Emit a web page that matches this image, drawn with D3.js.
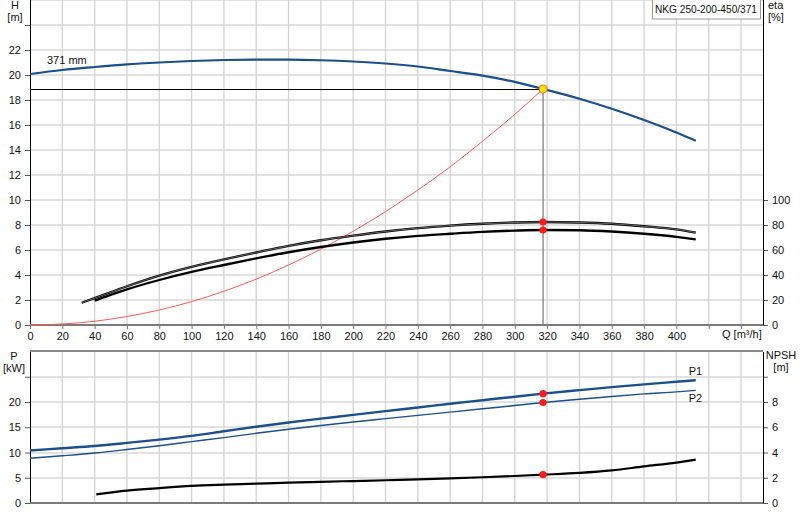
<!DOCTYPE html>
<html>
<head>
<meta charset="utf-8">
<script src="https://cdn.jsdelivr.net/npm/d3@7"></script>
<style>
body{margin:0;background:#fff;}
text{font-family:"Liberation Sans",Arial,sans-serif;font-size:11px;fill:#111;}
</style>
</head>
<body>
<svg id="chart" width="800" height="520"></svg>
<script>
// pump curve values
var qH=[0,20,40,60,80,100,120,140,160,180,200,220,240,260,280,300,317.5,340,360,380,400,412]
var headH=[20.08,20.4,20.64,20.85,21.0,21.12,21.2,21.23,21.23,21.18,21.08,20.92,20.68,20.32,19.95,19.45,18.88,18.1,17.3,16.4,15.4,14.74]

var qSys=[0,20,40,60,80,100,120,140,160,180,200,220,240,260,280,300,317.5]
var headSys=[0,0.08,0.3,0.68,1.2,1.87,2.7,3.67,4.8,6.07,7.5,9.07,10.8,12.65,14.7,16.85,18.88]

var qEta1=[32,40,60,80,100,120,140,160,180,200,220,240,260,280,300,317.5,340,360,380,400,412]
var eta1=[17.8,21.5,31,39.5,46.5,52.5,58,63.3,67.8,71.5,74.8,77.5,79.5,81,82,82.4,82,81,79,76.5,73.9]

var qEta2=[40,60,80,100,120,140,160,180,200,220,240,260,280,300,317.5,340,360,380,400,412]
var eta2=[19.5,28.5,36,42.5,48,53.3,58.2,62.4,66,69,71.3,73,74.5,75.5,76,75.8,74.8,73,70.5,68.5]

var qP=[0,20,40,60,80,100,120,140,160,180,200,220,240,260,280,300,317.5,340,360,380,400,412]
var p1=[10.4,10.85,11.3,11.9,12.55,13.3,14.2,15.1,15.95,16.7,17.45,18.2,18.9,19.65,20.35,21.05,21.65,22.35,22.95,23.5,24.0,24.3]
var p2=[8.85,9.35,9.9,10.6,11.35,12.15,12.95,13.8,14.6,15.35,16.05,16.7,17.35,18.0,18.65,19.3,19.9,20.55,21.1,21.6,22.0,22.3]

var qN=[41,60,80,100,120,140,160,180,200,220,240,260,280,300,317.5,340,360,380,400,412]
var npsh=[0.69,0.98,1.18,1.35,1.45,1.53,1.61,1.68,1.74,1.8,1.87,1.95,2.04,2.14,2.24,2.38,2.58,2.9,3.2,3.43]

var dutyQ=317.5
var dutyH=18.88
var dutyEta=[82.4,76]
var dutyP=[21.65,19.9]
var dutyN=2.24

var qTicks=d3.range(0,441,20)
var hTicks=d3.range(0,25,2)
var etaTicks=d3.range(0,101,20)
var pTicks=d3.range(0,26,5)
var nTicks=d3.range(0,11,2)

var blue="#1b4f8b"
var svg=d3.select("#chart")

var x=d3.scaleLinear().domain([0,453.6]).range([30,763])
var yH=d3.scaleLinear().domain([0,26]).range([325,0])
var yEta=d3.scaleLinear().domain([0,260]).range([325,0])
var yP=d3.scaleLinear().domain([0,30]).range([503,351.5])
var yN=d3.scaleLinear().domain([0,12]).range([503,351.5])

//grid top
var grid=svg.append("g")
grid.selectAll(".hg").data(hTicks.concat([26]).filter(function(d){return d>0})).enter().append("line")
    .attr("x1",30).attr("x2",763)
    .attr("y1",function(d){return yH(d)}).attr("y2",function(d){return yH(d)})
    .attr("stroke","#e2e2e2").attr("stroke-width",2).attr("shape-rendering","crispEdges")
grid.selectAll(".vg").data(qTicks.filter(function(d){return d>0})).enter().append("line")
    .attr("x1",function(d){return x(d)}).attr("x2",function(d){return x(d)})
    .attr("y1",0).attr("y2",325)
    .attr("stroke","#d2d2d2").attr("stroke-width",1.3)
//grid bottom
grid.selectAll(".hg2").data(pTicks.filter(function(d){return d>0})).enter().append("line")
    .attr("x1",30).attr("x2",763)
    .attr("y1",function(d){return yP(d)}).attr("y2",function(d){return yP(d)})
    .attr("stroke","#e2e2e2").attr("stroke-width",2).attr("shape-rendering","crispEdges")
grid.selectAll(".vg2").data(qTicks.filter(function(d){return d>0})).enter().append("line")
    .attr("x1",function(d){return x(d)}).attr("x2",function(d){return x(d)})
    .attr("y1",351.5).attr("y2",503)
    .attr("stroke","#d2d2d2").attr("stroke-width",1.3)

//axes
var styleAxis=function(g,col){
    g.select(".domain").remove()
    g.selectAll(".tick line").attr("stroke",col||"#555")
    g.selectAll(".tick text").style("font-size","11px").attr("fill","#111")
}
svg.append("g").attr("transform","translate(30,0)")
    .call(d3.axisLeft(yH).tickValues(hTicks).tickSize(5).tickPadding(4)
    .tickFormat(function(d){return d==24?"":d}))
    .call(styleAxis)
svg.append("g").attr("transform","translate(763,0)")
    .call(d3.axisRight(yEta).tickValues(etaTicks).tickSize(5).tickPadding(4))
    .call(styleAxis)
svg.append("g").attr("transform","translate(0,325)")
    .call(d3.axisBottom(x).tickValues(qTicks).tickSize(4).tickPadding(3)
    .tickFormat(function(d){return d>400?"":d}))
    .call(styleAxis,"#777")
svg.append("g").attr("transform","translate(30,0)")
    .call(d3.axisLeft(yP).tickValues(pTicks).tickSize(5).tickPadding(4)
    .tickFormat(function(d){return d==25?"":d}))
    .call(styleAxis)
svg.append("g").attr("transform","translate(763,0)")
    .call(d3.axisRight(yN).tickValues(nTicks).tickSize(5).tickPadding(4)
    .tickFormat(function(d){return d==10?"":d}))
    .call(styleAxis)

//frame lines
var frame=svg.append("g").attr("shape-rendering","crispEdges")
frame.append("line").attr("x1",30).attr("x2",30).attr("y1",0).attr("y2",325).attr("stroke","#000")
frame.append("line").attr("x1",763).attr("x2",763).attr("y1",0).attr("y2",325).attr("stroke","#000")
frame.append("line").attr("x1",30).attr("x2",30).attr("y1",351.5).attr("y2",503).attr("stroke","#000")
frame.append("line").attr("x1",763).attr("x2",763).attr("y1",351.5).attr("y2",503).attr("stroke","#000")
frame.append("line").attr("x1",30).attr("x2",763).attr("y1",325).attr("y2",325).attr("stroke","#7a7a7a").attr("stroke-width",2)
frame.append("line").attr("x1",30).attr("x2",763).attr("y1",503).attr("y2",503).attr("stroke","#7a7a7a").attr("stroke-width",2)
frame.append("line").attr("x1",30).attr("x2",763).attr("y1",351).attr("y2",351).attr("stroke","#8a8a8a").attr("stroke-width",1.5)

//axis titles
var label=function(t,xx,yy,anchor){
    return svg.append("text").attr("x",xx).attr("y",yy).attr("text-anchor",anchor||"middle").text(t)
}
label("H",15,9); label("[m]",15,21)
label("eta",768,9,"start"); label("[%]",768,21,"start")
label("P",14,360); label("[kW]",14,372)
label("NPSH",781,359); label("[m]",781,371)
label("Q [m³/h]",722,338,"start")
label("371 mm",47,64,"start")

//title box
svg.append("rect").attr("x",652.5).attr("y",-1).attr("width",108).attr("height",20)
    .attr("fill","#fff").attr("stroke","#999")
label("NKG 250-200-450/371",655,13,"start").attr("textLength",102).attr("lengthAdjust","spacingAndGlyphs")

var lineOf=function(xs,ys,yScale){
    return d3.line().curve(d3.curveMonotoneX)
        .x(function(d,i){return x(xs[i])})
        .y(function(d,i){return yScale(ys[i])})(ys)
}

//system curve
svg.append("path").attr("d",lineOf(qSys,headSys,yH)).attr("fill","none")
    .attr("stroke","#ff5a5a").attr("stroke-width",1)
//duty lines
svg.append("line").attr("x1",30).attr("x2",x(dutyQ)).attr("y1",yH(dutyH)).attr("y2",yH(dutyH))
    .attr("stroke","#000").attr("stroke-width",1).attr("shape-rendering","crispEdges")
svg.append("line").attr("x1",x(dutyQ)).attr("x2",x(dutyQ)).attr("y1",yH(dutyH)).attr("y2",325)
    .attr("stroke","#777").attr("stroke-width",1.2)

//head curve
svg.append("path").attr("d",lineOf(qH,headH,yH)).attr("fill","none")
    .attr("stroke",blue).attr("stroke-width",2.2)
//efficiency curves
svg.append("path").attr("d",lineOf(qEta1,eta1,yEta)).attr("fill","none")
    .attr("stroke","#000").attr("stroke-width",2.3)
svg.append("path").attr("d",lineOf(qEta1,eta1,yEta)).attr("fill","none")
    .attr("stroke","#aaa").attr("stroke-width",0.6)
svg.append("path").attr("d",lineOf(qEta2,eta2,yEta)).attr("fill","none")
    .attr("stroke","#000").attr("stroke-width",2.3)

//power and npsh
svg.append("path").attr("d",lineOf(qP,p1,yP)).attr("fill","none")
    .attr("stroke",blue).attr("stroke-width",2.4)
svg.append("path").attr("d",lineOf(qP,p2,yP)).attr("fill","none")
    .attr("stroke",blue).attr("stroke-width",1.4)
svg.append("path").attr("d",lineOf(qN,npsh,yN)).attr("fill","none")
    .attr("stroke","#000").attr("stroke-width",2.2)
svg.append("text").attr("x",x(412)-7).attr("y",yP(p1[p1.length-1])-5).attr("fill",blue).text("P1")
svg.append("text").attr("x",x(412)-7).attr("y",yP(p2[p2.length-1])+12).attr("fill",blue).text("P2")

//duty points
var dots=[[yEta,dutyEta[0]],[yEta,dutyEta[1]],[yP,dutyP[0]],[yP,dutyP[1]],[yN,dutyN]]
svg.selectAll(".dot").data(dots).enter().append("circle")
    .attr("cx",x(dutyQ)).attr("cy",function(d){return d[0](d[1])})
    .attr("r",3.6).attr("fill","#ff1a1a")
svg.append("circle").attr("cx",x(dutyQ)).attr("cy",yH(dutyH)).attr("r",4)
    .attr("fill","#ffe800").attr("stroke","#ff6a3a").attr("stroke-width",1.2)
</script>
</body>
</html>
